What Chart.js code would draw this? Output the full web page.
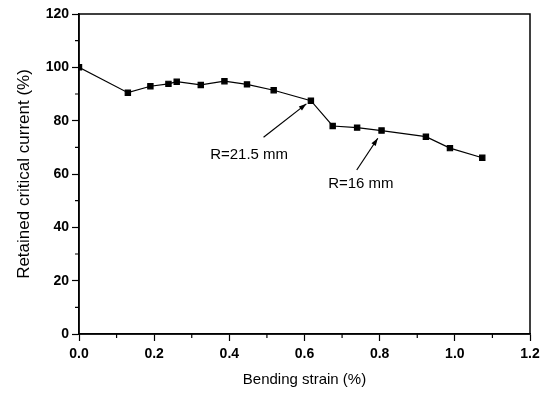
<!DOCTYPE html>
<html lang="en">
<head>
    <meta charset="UTF-8">
    <title>Retained critical current vs bending strain</title>
    <script src="https://cdn.jsdelivr.net/npm/chart.js"></script>
    <style>
        body {
            margin: 0;
            background-color: #fff;
        }
    </style>
</head>
<body>
    <canvas id="strainChart" width="550" height="399"></canvas>

    <script>
        // bending strain (%) and retained Ic (%)
        const strain = [0.0, 0.13, 0.19, 0.238, 0.26, 0.324, 0.387, 0.447, 0.518, 0.617, 0.675, 0.74, 0.805, 0.923, 0.987, 1.073];
        const retained = [100, 90.5, 92.9, 93.8, 94.6, 93.4, 94.8, 93.6, 91.4, 87.5, 78.0, 77.4, 76.3, 74.0, 69.7, 66.1];

        const xTicks = [0.0, 0.2, 0.4, 0.6, 0.8, 1.0, 1.2];
        const yTicks = [0, 20, 40, 60, 80, 100, 120];

        const notes = [
            { text: "R=21.5 mm", at: [0.349, 67.2], from: [0.491, 73.8], to: [0.605, 86.3] },
            { text: "R=16 mm", at: [0.663, 56.3], from: [0.739, 61.5], to: [0.795, 73.4] }
        ];

        const FONT = "'Liberation Sans', Arial, sans-serif";
        Chart.defaults.font.family = FONT;
        Chart.defaults.color = "#000";

        // frame, minor ticks and the arrows
        const extras = {
            id: "extras",
            afterDraw(chart) {
                const c = chart.ctx;
                const a = chart.chartArea;
                const xs = chart.scales.x;
                const ys = chart.scales.y;
                c.save();
                c.strokeStyle = "#000";
                c.lineWidth = 1.5;
                c.strokeRect(a.left, a.top, a.right - a.left, a.bottom - a.top);

                c.lineWidth = 1.2;
                c.beginPath();
                for (let i = 0; i < xTicks.length - 1; i++) {
                    const px = xs.getPixelForValue((xTicks[i] + xTicks[i + 1]) / 2);
                    c.moveTo(px, a.bottom);
                    c.lineTo(px, a.bottom + 4);
                }
                for (let i = 0; i < yTicks.length - 1; i++) {
                    const py = ys.getPixelForValue((yTicks[i] + yTicks[i + 1]) / 2);
                    c.moveTo(a.left, py);
                    c.lineTo(a.left - 4, py);
                }
                c.stroke();

                c.font = "15px " + FONT;
                c.fillStyle = "#000";
                c.textBaseline = "middle";
                notes.forEach(n => {
                    c.fillText(n.text, xs.getPixelForValue(n.at[0]), ys.getPixelForValue(n.at[1]));
                    const x1 = xs.getPixelForValue(n.from[0]), y1 = ys.getPixelForValue(n.from[1]);
                    const x2 = xs.getPixelForValue(n.to[0]), y2 = ys.getPixelForValue(n.to[1]);
                    c.beginPath();
                    c.moveTo(x1, y1);
                    c.lineTo(x2, y2);
                    c.stroke();
                    const ang = Math.atan2(y2 - y1, x2 - x1);
                    c.beginPath();
                    c.moveTo(x2, y2);
                    c.lineTo(x2 - 8 * Math.cos(ang - 0.33), y2 - 8 * Math.sin(ang - 0.33));
                    c.lineTo(x2 - 8 * Math.cos(ang + 0.33), y2 - 8 * Math.sin(ang + 0.33));
                    c.closePath();
                    c.fill();
                });
                c.restore();
            }
        };

        const ctx = document.getElementById("strainChart").getContext("2d");
        const chart = new Chart(ctx, {
            type: "scatter",
            data: {
                datasets: [{
                    data: strain.map((s, i) => ({ x: s, y: retained[i] })),
                    showLine: true,
                    borderColor: "#000",
                    borderWidth: 1.2,
                    backgroundColor: "#000",
                    pointStyle: "rect",
                    pointRadius: 3.7,
                    pointHoverRadius: 3.7
                }]
            },
            options: {
                responsive: false,
                animation: false,
                layout: { padding: { left: 0, top: 14, right: 20, bottom: 0 } },
                plugins: {
                    legend: { display: false },
                    tooltip: { enabled: false }
                },
                scales: {
                    x: {
                        type: "linear",
                        min: 0,
                        max: 1.2,
                        afterBuildTicks: s => { s.ticks = xTicks.map(v => ({ value: v })); },
                        afterFit: s => { s.height = 65; },
                        ticks: {
                            autoSkip: false,
                            maxRotation: 0,
                            padding: 5,
                            font: { size: 14, weight: "bold" },
                            callback: v => v.toFixed(1)
                        },
                        grid: { drawOnChartArea: false, tickLength: 7, tickWidth: 1.2, tickColor: "#000" },
                        border: { color: "#000", width: 1.5 },
                        title: {
                            display: true,
                            text: "Bending strain (%)",
                            font: { size: 15 },
                            padding: { top: 0, bottom: 10 }
                        }
                    },
                    y: {
                        min: 0,
                        max: 120,
                        afterBuildTicks: s => { s.ticks = yTicks.map(v => ({ value: v })); },
                        afterFit: s => { s.width = 79; },
                        ticks: {
                            autoSkip: false,
                            padding: 3,
                            font: { size: 14, weight: "bold" }
                        },
                        grid: { drawOnChartArea: false, tickLength: 7, tickWidth: 1.2, tickColor: "#000" },
                        border: { color: "#000", width: 1.5 },
                        title: {
                            display: true,
                            text: "Retained critical current (%)",
                            font: { size: 17 },
                            padding: { top: 14, bottom: 0 }
                        }
                    }
                }
            },
            plugins: [extras]
        });
    </script>
</body>
</html>
